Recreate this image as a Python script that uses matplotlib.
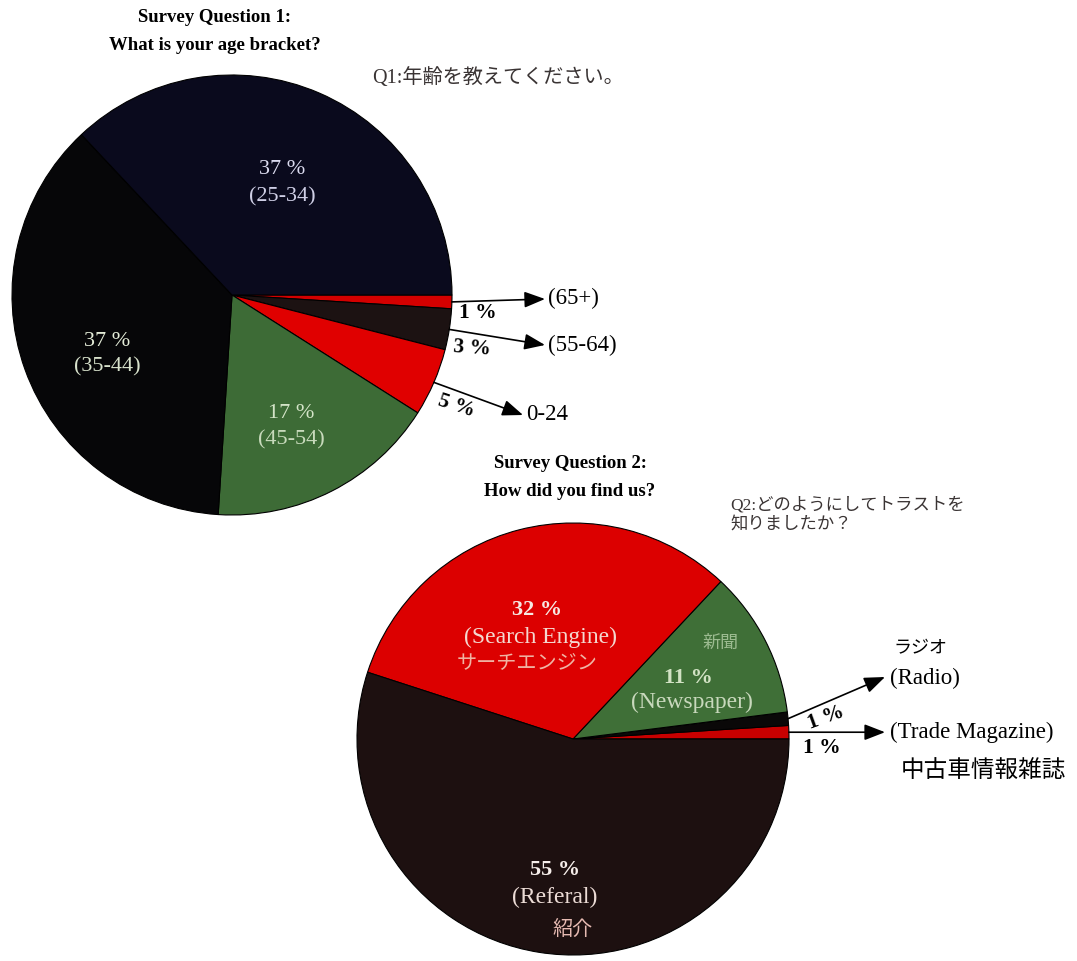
import numpy as np
import matplotlib
matplotlib.use("Agg")
import matplotlib.pyplot as plt

# ---------------- data ----------------
age_labels = ["(65+)", "(55-64)", "0-24", "(45-54)", "(35-44)", "(25-34)"]
age_values = [1, 3, 5, 17, 37, 37]
age_colors = ["#d40000", "#1c1212", "#e00000", "#3d6b36", "#060608", "#0a0a1d"]

find_labels = ["(Trade Magazine)", "(Radio)", "(Newspaper)", "(Search Engine)", "(Referal)"]
find_jp = ["中古車情報雑誌", "ラジオ", "新聞", "サーチエンジン", "紹介"]
find_values = [1, 1, 11, 32, 55]
find_colors = ["#c80000", "#0a0808", "#3f6f37", "#dc0000", "#1d1010"]

W, H = 1077, 961
def Y(y):
    return H - y

SERIF = ["Liberation Serif", "Noto Sans CJK JP"]
JP = ["Noto Sans CJK JP", "DejaVu Sans"]

fig = plt.figure(figsize=(W / 100, H / 100), dpi=100)
fig.patch.set_facecolor("white")
ax = fig.add_axes([0, 0, 1, 1])

w1, _ = ax.pie(age_values, colors=age_colors, startangle=0, counterclock=False,
               center=(232, Y(295)), radius=220,
               wedgeprops=dict(edgecolor="black", linewidth=0.8))
w2, _ = ax.pie(find_values, colors=find_colors, startangle=0, counterclock=True,
               center=(573, Y(739)), radius=216,
               wedgeprops=dict(edgecolor="black", linewidth=0.8))

ax.set_xlim(0, W)
ax.set_ylim(0, H)
ax.set_aspect("equal")
ax.axis("off")


def rim(w):
    th = np.deg2rad((w.theta1 + w.theta2) / 2)
    return (w.center[0] + w.r * np.cos(th), w.center[1] + w.r * np.sin(th))


def arrow(start, end):
    ax.annotate("", xy=end, xytext=start,
                arrowprops=dict(arrowstyle="-|>,head_length=0.9,head_width=0.35",
                                color="black", lw=1.2, shrinkA=0, shrinkB=0,
                                mutation_scale=14))


# ---------------- titles ----------------
ax.text(215, Y(18), "Survey Question 1:", family=SERIF, weight="bold", fontsize=13.5,
        ha="center", va="center")
ax.text(215, Y(45), "What is your age bracket?", family=SERIF, weight="bold", fontsize=13.5,
        ha="center", va="center")
ax.text(372, Y(78), "Q1:年齢を教えてください。", family=SERIF, fontsize=14.5,
        color="#3a3434", ha="left", va="center")

ax.text(570, Y(463), "Survey Question 2:", family=SERIF, weight="bold", fontsize=13.5,
        ha="center", va="center")
ax.text(570, Y(492), "How did you find us?", family=SERIF, weight="bold", fontsize=13.5,
        ha="center", va="center")
ax.text(730, Y(505), "Q2:どのようにしてトラストを", family=SERIF, fontsize=12.5,
        color="#3a3434", ha="left", va="center")
ax.text(730, Y(525), "知りましたか？", family=SERIF, fontsize=12.5,
        color="#3a3434", ha="left", va="center")

# ---------------- pie 1 inner labels ----------------
def two_line(x, y1, y2, pct, lab, c1, c2, fs=16):
    ax.text(x, Y(y1), pct, family=SERIF, fontsize=fs, color=c1, ha="center", va="center")
    ax.text(x, Y(y2), lab, family=SERIF, fontsize=fs, color=c2, ha="center", va="center")

two_line(282, 170, 197, f"{age_values[5]} %", age_labels[5], "#dcdcf0", "#cfcfe6")
two_line(107, 342, 367, f"{age_values[4]} %", age_labels[4], "#e4ecd8", "#d8e2cc")
two_line(291, 413, 440, f"{age_values[3]} %", age_labels[3], "#d4e4c8", "#c8dabc")

# pie 1 outer annotations
ends1 = {0: (545, 299), 1: (545, 345), 2: (523, 415)}
txt1 = {0: (548, 298), 1: (548, 345), 2: (526, 415)}
pct1 = {0: (478, 313, 0), 1: (472, 348, -4), 2: (456, 406, -18)}
for i in (0, 1, 2):
    sx, sy = rim(w1[i])
    ex, ey = ends1[i]
    arrow((sx, sy), (ex, Y(ey)))
    tx, ty = txt1[i]
    ax.text(tx, Y(ty), age_labels[i], family=SERIF, fontsize=16.5, ha="left", va="center")
    px, py, rot = pct1[i]
    ax.text(px, Y(py), f"{age_values[i]} %", family=SERIF, weight="bold", fontsize=15.5,
            rotation=rot, ha="center", va="center")

# ---------------- pie 2 inner labels ----------------
ax.text(537, Y(610), f"{find_values[3]} %", family=SERIF, weight="bold", fontsize=16,
        color="#f6e8e2", ha="center", va="center")
ax.text(540, Y(637), find_labels[3], family=SERIF, fontsize=17, color="#f4d8d0",
        ha="center", va="center")
ax.text(527, Y(664), find_jp[3], family=JP, fontsize=14.5, color="#f0b4a4",
        ha="center", va="center")

ax.text(720, Y(643), find_jp[2], family=JP, fontsize=13, color="#9cbb90",
        ha="center", va="center")
ax.text(688, Y(678), f"{find_values[2]} %", family=SERIF, weight="bold", fontsize=16,
        color="#d2e2c4", ha="center", va="center")
ax.text(692, Y(702), find_labels[2], family=SERIF, fontsize=17, color="#c8d8bc",
        ha="center", va="center")

ax.text(555, Y(870), f"{find_values[4]} %", family=SERIF, weight="bold", fontsize=16,
        color="#f6eeea", ha="center", va="center")
ax.text(555, Y(897), find_labels[4], family=SERIF, fontsize=17, color="#ecdcd6",
        ha="center", va="center")
ax.text(573, Y(929), find_jp[4], family=JP, fontsize=14.5, color="#e6bab2",
        ha="center", va="center")

# pie 2 outer annotations
# Radio
sx, sy = rim(w2[1])
arrow((sx, sy), (885, Y(677)))
ax.text(890, Y(678), find_labels[1], family=SERIF, fontsize=16.5, ha="left", va="center")
ax.text(893, Y(648), find_jp[1], family=JP, fontsize=13, ha="left", va="center")
ax.text(826, Y(718), f"{find_values[1]} %", family=SERIF, weight="bold", fontsize=15.5,
        rotation=20, ha="center", va="center")
# Trade magazine
sx, sy = rim(w2[0])
arrow((sx, sy), (885, sy))
ax.text(890, sy, find_labels[0], family=SERIF, fontsize=16.5, ha="left", va="center")
ax.text(983, Y(770), find_jp[0], family=JP, fontsize=17, ha="center", va="center")
ax.text(822, Y(748), f"{find_values[0]} %", family=SERIF, weight="bold", fontsize=15.5,
        ha="center", va="center")

fig.savefig("out.png", dpi=100, facecolor="white")
